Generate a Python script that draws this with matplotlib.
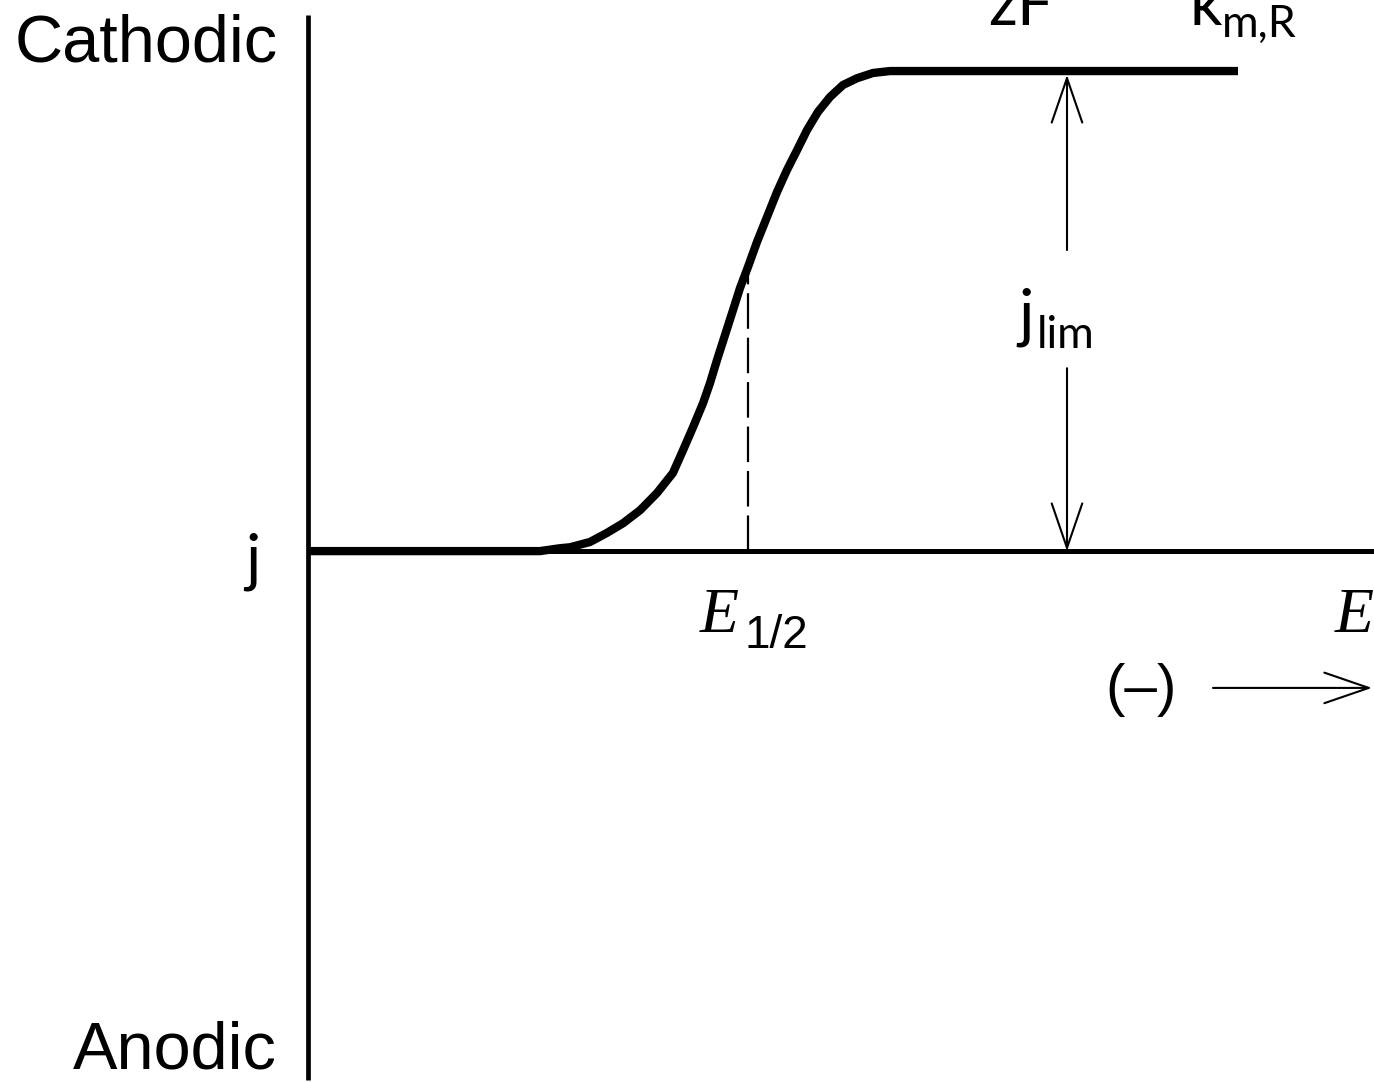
import numpy as np
import matplotlib
matplotlib.use("Agg")
import matplotlib.pyplot as plt

# polarisation curve: potential (arb. units) vs current (j / j_lim)
E_curve = [0.00, 2.32, 2.52, 2.62, 2.82, 2.99, 3.15, 3.32, 3.49, 3.65, 3.75,
           3.85, 3.95, 4.02, 4.09, 4.17, 4.25, 4.32, 4.40, 4.49, 4.59, 4.69,
           4.79, 4.89, 4.99, 5.10, 5.22, 5.35, 5.49, 5.65, 5.82, 6.32, 9.30]
j_curve = [0.000, 0.000, 0.006, 0.008, 0.019, 0.038, 0.058, 0.085, 0.121, 0.163, 0.210,
           0.258, 0.308, 0.350, 0.398, 0.450, 0.502, 0.548, 0.592, 0.644, 0.696, 0.748,
           0.794, 0.835, 0.877, 0.915, 0.946, 0.971, 0.985, 0.996, 1.000, 1.000, 1.000]

E_half = 4.40
j_half = 0.592
E_lim = 7.59        # where the j_lim arrow sits
j_gap = [0.627, 0.381]   # break in the arrow for its label

fig = plt.figure(figsize=(13.74, 10.83), dpi=100)
ax = fig.add_axes([0, 0, 1, 1])
ax.set_xlim(-3.08, 10.66)
ax.set_ylim(-1.108, 1.148)
ax.axis('off')

# axes
ax.plot([0, 0], [-1.102, 1.117], color='black', lw=3.4, solid_capstyle='butt')
ax.plot([0, 10.66], [0, 0], color='black', lw=3.6, solid_capstyle='butt')

# curve
ax.plot(E_curve, j_curve, color='black', lw=6, solid_capstyle='butt', solid_joinstyle='round')

# half-wave potential marker
ax.plot([E_half, E_half], [0, j_half], color='black', lw=1.6, dashes=(16, 4))

# limiting current double arrow
aprops = dict(arrowstyle='->,head_length=1.6,head_width=0.55', color='black',
              lw=1.5, shrinkA=0, shrinkB=0, mutation_scale=20)
ax.annotate('', xy=(E_lim, 0.992), xytext=(E_lim, j_gap[0]), arrowprops=aprops)
ax.annotate('', xy=(E_lim, 0.0), xytext=(E_lim, j_gap[1]), arrowprops=aprops)

# potential direction arrow
ax.annotate('', xy=(10.64, -0.285), xytext=(9.05, -0.285), arrowprops=aprops)

helv = 'Liberation Sans'
cal = 'Lato'
ax.text(-0.30, 1.019, 'Cathodic', family=helv, fontsize=48, ha='right', va='baseline')
ax.text(-0.31, -1.077, 'Anodic', family=helv, fontsize=48, ha='right', va='baseline')
ax.text(-0.63, -0.06, 'j', family=cal, fontsize=46, ha='left', va='baseline')

ax.text(7.10, 0.450, 'j', family=cal, fontsize=47, ha='left', va='baseline')
ax.text(7.29, 0.423, 'lim', family=cal, fontsize=32, ha='left', va='baseline')

ax.text(6.80, 1.096, 'zF', family=cal, fontsize=46, ha='left', va='baseline')
ax.text(8.82, 1.096, 'k', family=cal, fontsize=46, ha='left', va='baseline')
ax.text(9.14, 1.071, 'm,R', family=cal, fontsize=32, ha='left', va='baseline')

ax.text(3.92, -0.169, 'E', family='Liberation Serif', style='italic', fontsize=46,
        ha='left', va='baseline')
ax.text(4.37, -0.202, '1/2', family=helv, fontsize=33, ha='left', va='baseline')
ax.text(10.27, -0.169, 'E', family='Liberation Serif', style='italic', fontsize=46,
        ha='left', va='baseline')
ax.text(7.97, -0.321, '(\u2013)', family=helv, fontsize=42, ha='left', va='baseline')

fig.savefig('out.png', dpi=100)
